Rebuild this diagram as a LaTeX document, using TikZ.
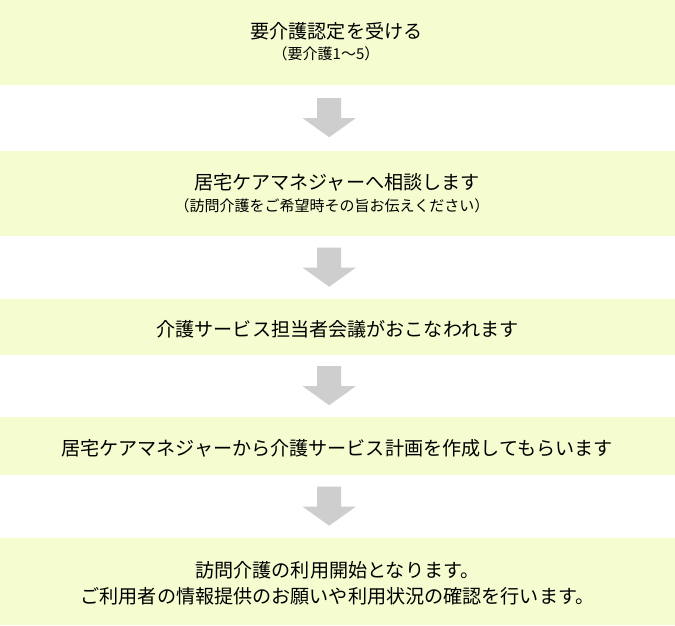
\documentclass[tikz,border=0pt]{standalone}
\usepackage{fontspec}
\setmainfont{Noto Sans CJK JP}
\usetikzlibrary{calc}
\definecolor{boxfill}{RGB}{244,252,208}
\definecolor{arrowgray}{RGB}{206,206,206}
\begin{document}
\begin{tikzpicture}[x=1pt,y=-1pt,
  stepbox/.style={fill=boxfill, draw=none, minimum width=675pt, inner sep=0pt, anchor=north west},
  ttl/.style={font=\fontsize{19.1}{22}\selectfont, text=black, inner sep=0pt},
  subt/.style={font=\fontsize{15}{18}\selectfont, text=black, inner sep=0pt},
  downarrow/.pic={\fill[arrowgray] (-12,-20) -- (12,-20) -- (12,0) -- (26.5,0) -- (0,19) -- (-26.5,0) -- (-12,0) -- cycle;}
]
\useasboundingbox (0,0) rectangle (675,625);
\fill[white] (0,0) rectangle (675,625);

\node[stepbox, minimum height=85pt] (b1) at (0,0) {};
\node[stepbox, minimum height=85pt] (b2) at (0,151) {};
\node[stepbox, minimum height=56pt] (b3) at (0,299) {};
\node[stepbox, minimum height=58pt] (b4) at (0,417) {};
\node[stepbox, minimum height=87pt] (b5) at (0,538) {};

\node[ttl] (t1) at (336.5,31) {要介護認定を受ける};
\node[subt] (s1) at (326,54) {（要介護1～5）};
\node[ttl] (t2) at (337,182) {居宅ケアマネジャーへ相談します};
\node[subt] (s2) at (332,206) {（訪問介護をご希望時その旨お伝えください）};
\node[ttl] (t3) at (337.5,329) {介護サービス担当者会議がおこなわれます};
\node[ttl] (t4) at (337,448) {居宅ケアマネジャーから介護サービス計画を作成してもらいます};
\node[ttl] (t5a) at (337.5,570) {訪問介護の利用開始となります。};
\node[ttl] (t5b) at (337.5,596) {ご利用者の情報提供のお願いや利用状況の確認を行います。};

\path ($(b1.south)!0.5!(b2.north)+(-8.5,0)$) pic {downarrow};
\path ($(b2.south)!0.5!(b3.north)+(-8.5,0)$) pic {downarrow};
\path ($(b3.south)!0.5!(b4.north)+(-8.5,0)$) pic {downarrow};
\path ($(b4.south)!0.5!(b5.north)+(-8.5,0)$) pic {downarrow};
\end{tikzpicture}
\end{document}
